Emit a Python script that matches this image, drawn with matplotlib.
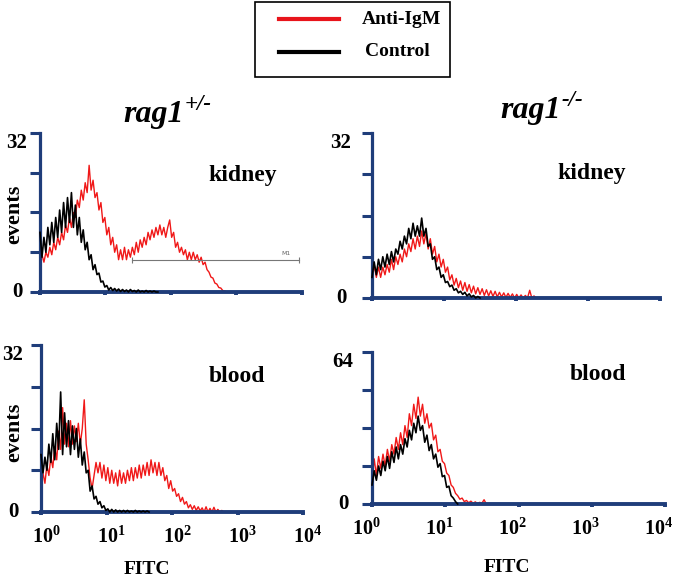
import numpy as np
import matplotlib
matplotlib.use("Agg")
import matplotlib.pyplot as plt
from matplotlib.lines import Line2D
from matplotlib.patches import Rectangle
from matplotlib.text import Annotation
from matplotlib import transforms

plt.rcParams['font.family'] = ['Liberation Serif', 'DejaVu Serif']
plt.rcParams['mathtext.fontset'] = 'custom'
plt.rcParams['mathtext.rm'] = 'Liberation Serif:bold'
plt.rcParams['mathtext.it'] = 'Liberation Serif:italic:bold'
plt.rcParams['mathtext.bf'] = 'Liberation Serif:bold'

# ---------------- data ----------------
# histogram counts per channel; channels spaced 0.03 decades apart starting at FITC = 10^0
CHANNEL_STEP = 0.03

kidney_het_control = [12, 7, 11, 8, 13, 9.5, 14, 10, 15, 11, 16.5, 12, 18, 13, 19, 14, 20, 13, 17.5, 11.5,
                      15, 10, 12.5, 8.5, 10, 6.5, 7.5, 4.5, 5.5, 3.5, 3.8, 2, 2.2, 1, 1.3, 0.4, 0.9, 0.3, 0.7, 0.2,
                      0.6, 0.1, 0.5, 0.1, 0.4, 0, 0.5, 0.1, 0.3, 0, 0.4, 0, 0.2, 0, 0.3, 0, 0.2, 0, 0.2, 0, 0]
kidney_het_antiigm = [5.5, 7.5, 6, 8, 7, 9, 7.5, 10, 8.5, 11, 9.5, 12, 10.5, 13.5, 12, 15, 13, 16, 15, 18.5,
                      17, 20.5, 18.5, 22, 20, 25.5, 20.5, 22.5, 19, 20, 16.5, 18, 14, 15, 11.5, 13, 9.5, 11, 8, 9.5,
                      6.5, 8.5, 6.5, 9, 6.5, 8.5, 7, 9, 7.5, 10, 8, 10.5, 9, 11, 9.5, 12, 10.5, 12.5, 11, 13,
                      11.5, 13.5, 11.5, 13, 11, 13, 14.5, 11, 12, 9, 10, 8, 9, 7.5, 8.5, 6.5, 8, 6.5, 8, 6.5,
                      7.5, 6, 7, 5.5, 6, 4.5, 4, 3, 2.8, 1.8, 1.6, 0.9, 0.8, 0.3, 0.2, 0]

blood_het_control = [11, 7.5, 10.5, 8, 13, 9.5, 15, 10, 17, 12, 23, 11, 19, 12.5, 17.5, 11, 16.5, 12, 16, 10.5,
                     14, 9, 11.5, 7.5, 8, 4, 5, 2.5, 3, 1.5, 2, 0.8, 1.2, 0.3, 0.6, 0, 0.5, 0, 0.4, 0,
                     0.3, 0, 0.3, 0, 0.3, 0, 0.2, 0, 0.3, 0, 0.2, 0, 0.2, 0, 0.2, 0]
blood_het_antiigm = [4.5, 7.5, 5.5, 9, 7, 10.5, 8.5, 12.5, 10, 15.5, 12, 20, 13, 17, 12.5, 17.5, 13, 16.5, 13.5, 17,
                     13, 16, 21.5, 13, 10, 6.5, 4.5, 7, 9.5, 7.5, 9.5, 6.5, 9, 6, 8.5, 5.5, 8, 5.5, 7.5, 5,
                     8, 5.5, 7.5, 5.5, 8, 6, 8.5, 6, 8.5, 6.5, 9, 6.5, 9, 7, 9.5, 7, 10, 7.5, 9.5, 7,
                     9.5, 7, 8.5, 6, 7, 4.5, 6, 4, 4.5, 3, 3.5, 2, 2.8, 1.5, 2, 0.8, 1.4, 0.5, 1.2, 0.3,
                     1, 0.2, 0.8, 0, 1, 0, 0.7, 0, 0.9, 0, 0.5, 0, 0.3, 0]

kidney_ko_control = [4, 7, 4.5, 7.5, 5.5, 8, 6, 8.5, 6.5, 9, 7, 9.5, 8.5, 11, 9.5, 12, 10.5, 13.5, 11.5, 14.5,
                     12, 14, 12, 15.5, 12, 13.5, 10, 10.5, 7.5, 8, 5.5, 6, 4, 4.5, 3, 3.2, 2.2, 2.5, 1.5, 1.8,
                     1, 1.3, 0.7, 1.1, 0.4, 0.8, 0.2, 0.5, 0, 0.3, 0]
kidney_ko_antiigm = [3, 6.5, 4, 6, 4, 6, 4.5, 6.5, 5, 7.5, 5.5, 8, 6.5, 8.5, 7, 9.5, 8, 10.5, 9, 11.5,
                     9.5, 12, 10, 13, 10.5, 12.5, 9.5, 11.5, 8.5, 10, 7, 8.5, 6, 7.5, 5, 6, 3.5, 4.5, 2.5, 3.8,
                     2, 3.3, 1.5, 3, 1.3, 2.6, 1, 2.3, 0.8, 2, 0.7, 1.8, 0.5, 1.6, 0.4, 1.4, 0.3, 1.3, 0.2, 1.1,
                     0.2, 1, 0.1, 0.9, 0.1, 0.8, 0, 0.7, 0, 0.6, 0, 0.5, 0, 1.5, 0, 0.4, 0, 0]

blood_ko_control = [8, 14, 10, 16, 12, 18, 14, 20, 15, 22, 17.5, 24, 19, 25, 21, 27.5, 24, 31, 27, 34,
                    30, 37, 31, 33, 26, 29, 22.5, 25, 19, 21, 15.5, 17, 11.5, 12, 7, 7.5, 3.5, 2.5, 1, 0]
blood_ko_antiigm = [10, 19, 12, 20, 15, 21, 16, 23, 18, 25, 21, 28, 23, 30, 25, 33, 28, 38, 33, 42,
                    36, 45, 37, 42, 34, 38, 32, 34, 27, 29, 22, 23, 18, 17, 13, 12, 8, 7, 4.5, 3.5,
                    2, 2.5, 1, 1.5, 0.5, 1.2, 0.3, 0.9, 0.2, 0.7, 0.3, 1.8, 0]

m1_gate = (25, 9000)
m1_level = 6.4

panel_ymax = {"TL": 32, "TR": 32, "BL": 32, "BR": 64}
x_tick_values = [1, 10, 100, 1000, 10000]
x_tick_labels = [r"$10^{0}$", r"$10^{1}$", r"$10^{2}$", r"$10^{3}$", r"$10^{4}$"]
legend_labels = ["Anti-IgM", "Control"]
tissue_labels = {"TL": "kidney", "TR": "kidney", "BL": "blood", "BR": "blood"}
genotype_labels = [("rag1", "+/-"), ("rag1", "-/-")]

# ---------------- figure ----------------
W, H = 675, 577
fig = plt.figure(figsize=(W / 100, H / 100), dpi=100)

AXIS_COLOR = "#1f3d7a"
RED = "#f01818"


def fx(px):
    return px / W


def fy(py):
    return 1 - py / H


def panel(l, t, r, b):
    return fig.add_axes([fx(l), fy(b), (r - l) / W, (b - t) / H])


def channels(n):
    return 10 ** (np.arange(n) * CHANNEL_STEP)


def style(ax, ymax, show_xlabels, label_shift_px=0):
    ax.set_xscale("log")
    ax.set_xlim(1, 1e4)
    ax.set_ylim(0, ymax)
    for s in ("top", "right"):
        ax.spines[s].set_visible(False)
    ax.spines["left"].set_color(AXIS_COLOR)
    ax.spines["bottom"].set_color(AXIS_COLOR)
    ax.spines["left"].set_linewidth(2.3)
    ax.spines["bottom"].set_linewidth(2.8)
    ax.set_yticks(np.linspace(0, ymax, 5))
    ax.set_yticklabels([])
    ax.tick_params(axis="y", direction="out", length=7, width=2.2, color=AXIS_COLOR)
    ax.set_xticks(x_tick_values)
    ax.xaxis.set_minor_locator(matplotlib.ticker.NullLocator())
    ax.tick_params(axis="x", direction="out", length=2.5, width=2.8, color=AXIS_COLOR, pad=8,
                   labelsize=14.5)
    if show_xlabels:
        ax.set_xticklabels(x_tick_labels)
        off = transforms.ScaledTranslation(label_shift_px / 100, 0, fig.dpi_scale_trans)
        for lab in ax.get_xticklabels():
            lab.set_transform(lab.get_transform() + off)
    else:
        ax.set_xticklabels([])
    ax.patch.set_alpha(0)


def draw(ax, red, black):
    ax.plot(channels(len(red)), red, color=RED, lw=1.0, zorder=2, clip_on=False)
    ax.plot(channels(len(black)), black, color="black", lw=1.2, zorder=3, clip_on=False)


axTL = panel(40, 133, 302, 292)
axTR = panel(372, 133, 660, 298)
axBL = panel(41, 345, 303, 512)
axBR = panel(372, 352, 665, 504)

style(axTL, panel_ymax["TL"], False)
style(axTR, panel_ymax["TR"], False)
style(axBL, panel_ymax["BL"], True, label_shift_px=5)
style(axBR, panel_ymax["BR"], True, label_shift_px=-6)

draw(axTL, kidney_het_antiigm, kidney_het_control)
draw(axTR, kidney_ko_antiigm, kidney_ko_control)
draw(axBL, blood_het_antiigm, blood_het_control)
draw(axBR, blood_ko_antiigm, blood_ko_control)

# M1 gate marker
axTL.plot(m1_gate, [m1_level, m1_level], color="#777777", lw=0.8, zorder=4,
          marker="|", markersize=4, markeredgewidth=0.8)
axTL.annotate("M1", xy=(m1_gate[1], m1_level), xytext=(-6, 3), textcoords="offset points",
              fontsize=4.5, color="#666666", ha="right", va="bottom", family="DejaVu Sans")

# y-axis end labels
bold = dict(fontweight="bold", color="black")
for ax, xc, ymax in ((axTL, 17, 32), (axBL, 13, 32), (axTR, 341, 32), (axBR, 343, 64)):
    tr = transforms.blended_transform_factory(fig.transFigure, ax.transData)
    ax.text(fx(xc), ymax, str(ymax), transform=tr, ha="center", va="top", fontsize=15, **bold)
    ax.text(fx(xc), 0, "0", transform=tr, ha="center", va="center", fontsize=15, **bold)

# events labels
fig.text(fx(14), fy(214), "events", rotation=90, ha="center", va="center", fontsize=16, **bold)
fig.text(fx(14), fy(432), "events", rotation=90, ha="center", va="center", fontsize=16, **bold)

# FITC labels
fig.text(fx(147), fy(574), "FITC", ha="center", va="baseline", fontsize=14, **bold)
fig.text(fx(507), fy(572), "FITC", ha="center", va="baseline", fontsize=14, **bold)

# tissue labels
for (xc, yc), key in (((243, 175), "TL"), ((592, 173), "TR"), ((237, 376), "BL"), ((598, 374), "BR")):
    fig.text(fx(xc), fy(yc), tissue_labels[key], ha="center", va="center", fontsize=17, **bold)

# genotype titles with superscripts
for (x0, yb), (base, sup) in zip(((123, 122), (500, 118)), genotype_labels):
    t = fig.text(fx(x0), fy(yb), base, ha="left", va="baseline", fontsize=23,
                 fontstyle="italic", fontweight="bold")
    a = Annotation(sup, xy=(1, 1), xycoords=t, xytext=(1, 4), textcoords="offset points",
                   ha="left", va="top", fontsize=16.5, fontstyle="italic", fontweight="bold")
    fig.add_artist(a)

# legend box
fig.add_artist(Rectangle((fx(255), fy(77)), (450 - 255) / W, 75 / H, transform=fig.transFigure,
                         fill=False, edgecolor="black", linewidth=1.2))
fig.add_artist(Line2D([fx(279), fx(339)], [fy(19), fy(19)], transform=fig.transFigure,
                      color="#e8141b", linewidth=3))
fig.add_artist(Line2D([fx(279), fx(339)], [fy(52), fy(52)], transform=fig.transFigure,
                      color="black", linewidth=3))
fig.text(fx(362), fy(20), legend_labels[0], ha="left", va="center", fontsize=14, **bold)
fig.text(fx(365), fy(52), legend_labels[1], ha="left", va="center", fontsize=14, **bold)

fig.savefig("out.png", dpi=100)
